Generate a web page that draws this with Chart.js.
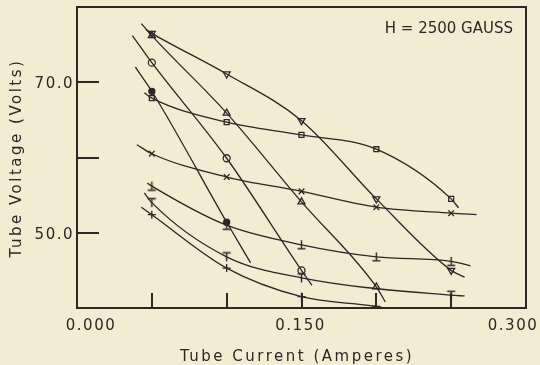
<!DOCTYPE html>
<html>
<head>
<meta charset="utf-8">
<script src="https://cdn.jsdelivr.net/npm/chart.js@4.4.1/dist/chart.umd.min.js"></script>
<style>
  html, body { margin: 0; padding: 0; background: #f4ebd3; }
  canvas { display: block; }
</style>
</head>
<body>
<canvas id="plot" width="540" height="365"></canvas>
<script>
//  MEASURED POINTS  (tube current in amperes, tube voltage in volts)

const currents = [0.05, 0.10, 0.15, 0.20, 0.25];

const voltsTriDown = [76.5, 71.1, 64.9, 54.5, 45.0];
const voltsTriUp   = [76.2, 65.9, 54.1, 42.8, null];
const voltsCircle  = [72.6, 59.9, 45.0, null, null];
const voltsDot     = [68.8, 51.4, null, null, null];
const voltsSquare  = [67.9, 64.7, 63.0, 61.1, 54.5];
const voltsCross   = [60.5, 57.4, 55.5, 53.4, 52.6];
const voltsBar     = [56.2, 51.0, 48.4, 46.8, 46.2];
const voltsTee     = [54.0, 46.8, 44.0, null, 41.7];
const voltsPlus    = [52.4, 45.3, 41.5, 40.2, null];

// where each drawn curve begins and ends (same order as above)
const startCurrent = [0.046, 0.043, 0.037, 0.039, 0.045, 0.040, 0.047, 0.045, 0.043];
const startVolts   = [77.0, 77.8, 76.2, 72.0, 68.6, 61.7, 56.6, 55.3, 53.4];
const endCurrent   = [0.259, 0.206, 0.157, 0.116, 0.255, 0.267, 0.263, 0.259, 0.205];
const endVolts     = [44.1, 40.8, 43.0, 46.0, 53.3, 52.4, 45.6, 41.6, 40.0];

const xTicks  = [0.05, 0.10, 0.15, 0.20, 0.25];
const xLabels = [0, 0.15, 0.3];
const yTicks  = [50, 60, 70];
const yLabels = [50, 70];

const ink = '#2a2724';
const paper = '#f4ebd3';

// small hand made marks that chart.js has no style for
function glyph(draw) {
    const c = document.createElement('canvas');
    c.width = 11;
    c.height = 11;
    const g = c.getContext('2d');
    g.strokeStyle = ink;
    g.lineWidth = 1.4;
    g.beginPath();
    draw(g);
    g.stroke();
    return c;
}

const barMark = glyph(g => { g.moveTo(5.5, 1); g.lineTo(5.5, 9.5); g.moveTo(1.5, 9.5); g.lineTo(9.5, 9.5); });
const teeMark = glyph(g => { g.moveTo(1.5, 1.5); g.lineTo(9.5, 1.5); g.moveTo(5.5, 1.5); g.lineTo(5.5, 10); });

const voltSeries = [voltsTriDown, voltsTriUp, voltsCircle, voltsDot, voltsSquare,
                    voltsCross, voltsBar, voltsTee, voltsPlus];
const markStyles = ['triangle', 'triangle', 'circle', 'circle', 'rect', 'crossRot', barMark, teeMark, 'cross'];
const markTurn   = [180, 0, 0, 0, 0, 0, 0, 0, 0];
const markSize   = [4, 4, 3.5, 3, 3.5, 4, 5, 5, 4];

const datasets = voltSeries.map((volts, k) => {
    const pts = [{ x: startCurrent[k], y: startVolts[k], mark: false }];
    currents.forEach((c, i) => {
        if (volts[i] !== null) pts.push({ x: c, y: volts[i], mark: true });
    });
    pts.push({ x: endCurrent[k], y: endVolts[k], mark: false });
    return {
        data: pts,
        borderColor: ink,
        borderWidth: 1.3,
        cubicInterpolationMode: 'monotone',
        pointStyle: markStyles[k],
        pointRotation: markTurn[k],
        pointRadius: ctx => (ctx.raw && ctx.raw.mark ? markSize[k] : 0),
        pointBorderColor: ink,
        pointBorderWidth: 1.3,
        pointBackgroundColor: k === 3 ? ink : 'rgba(0,0,0,0)'
    };
});

// box, inward ticks and all the lettering
const frame = {
    id: 'frame',
    beforeDraw(chart) {
        const c = chart.ctx;
        c.save();
        c.fillStyle = paper;
        c.fillRect(0, 0, chart.width, chart.height);
        c.restore();
    },
    afterDraw(chart) {
        const c = chart.ctx, a = chart.chartArea;
        const sx = chart.scales.x, sy = chart.scales.y;
        c.save();
        c.strokeStyle = ink;
        c.lineWidth = 2;
        c.strokeRect(a.left, a.top, a.right - a.left, a.bottom - a.top);
        c.beginPath();
        xTicks.forEach(v => {
            const px = Math.round(sx.getPixelForValue(v));
            c.moveTo(px, a.bottom);
            c.lineTo(px, a.bottom - 15);
        });
        yTicks.forEach(v => {
            const py = Math.round(sy.getPixelForValue(v));
            c.moveTo(a.left, py);
            c.lineTo(a.left + 22, py);
        });
        c.stroke();

        c.fillStyle = ink;
        c.font = '15px "DejaVu Sans"';
        c.letterSpacing = '1.5px';
        c.textBaseline = 'alphabetic';
        c.textAlign = 'center';
        xLabels.forEach((v, i) => {
            const shift = i === 0 ? 14 : (i === xLabels.length - 1 ? -13 : -1);
            c.fillText(v.toFixed(3), sx.getPixelForValue(v) + shift, a.bottom + 22);
        });
        c.textAlign = 'right';
        yLabels.forEach(v => c.fillText(v.toFixed(1), a.left - 3, sy.getPixelForValue(v) + 6));

        c.letterSpacing = '2.5px';
        c.textAlign = 'center';
        c.fillText('Tube Current (Amperes)', 297, 361);
        c.save();
        c.translate(21, 158);
        c.rotate(-Math.PI / 2);
        c.fillText('Tube Voltage (Volts)', 0, 0);
        c.restore();

        c.letterSpacing = '0px';
        c.textAlign = 'right';
        c.fillText('H = 2500 GAUSS', 513, 33);
        c.restore();
    }
};

const plot = new Chart(document.getElementById('plot'), {
    type: 'line',
    data: { datasets: datasets },
    options: {
        responsive: false,
        animation: false,
        layout: { padding: { left: 77, top: 7, right: 14, bottom: 57 } },
        plugins: {
            legend: { display: false },
            tooltip: { enabled: false }
        },
        scales: {
            x: { type: 'linear', min: 0, max: 0.3, display: false },
            y: { type: 'linear', min: 40, max: 80, display: false }
        }
    },
    plugins: [frame]
});
</script>
</body>
</html>
